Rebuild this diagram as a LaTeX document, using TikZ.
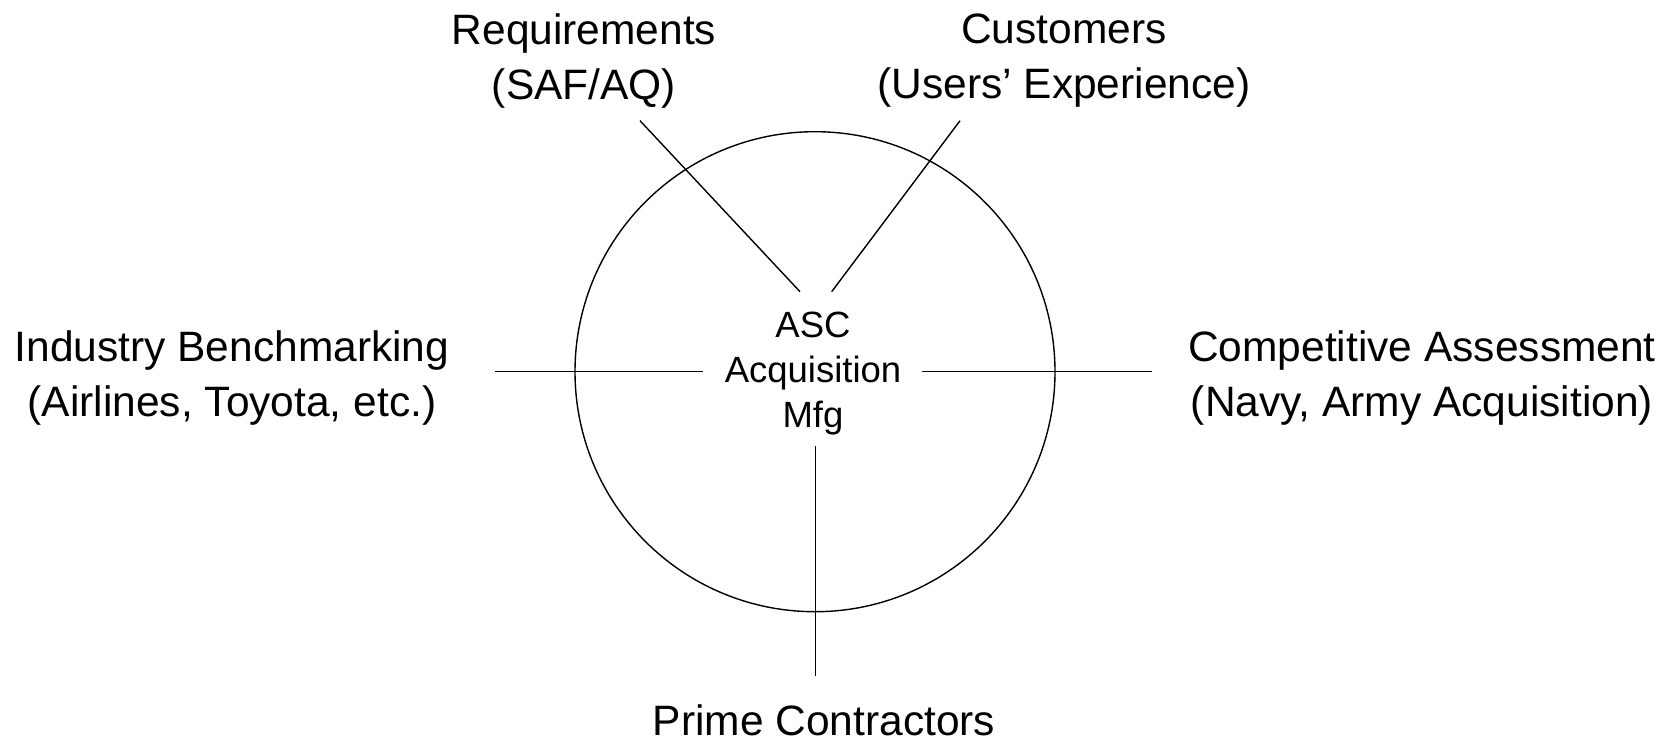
\documentclass[tikz,border=0pt]{standalone}
\usepackage{fontspec}
\setmainfont{Liberation Sans}
\begin{document}
\begin{tikzpicture}[x=1pt,y=-1pt,
  lbl/.style={inner sep=0pt, align=center, font=\fontsize{42.5}{55}\selectfont},
  hublbl/.style={inner sep=0pt, align=center, font=\fontsize{36.5}{45.3}\selectfont},
  conn/.style={line width=1.4pt},
  hubring/.style={draw, circle, line width=1.4pt, minimum size=480pt, inner sep=0pt}]
\useasboundingbox (0,0) rectangle (1673,736);
% hub
\node[hubring] (hub) at (815,371.7) {};
\node[hublbl] (asc) at (813,373.5) {ASC\\Acquisition\\Mfg};
% outer labels
\node[lbl] (req) at (584,61) {Requirements\\(SAF/AQ)};
\node[lbl] (cust) at (1064,61) {Customers\\(Users’ Experience)};
\node[lbl] (ind) at (232,378) {Industry Benchmarking\\(Airlines, Toyota, etc.)};
\node[lbl] (comp) at (1422,378) {Competitive Assessment\\(Navy, Army Acquisition)};
\node[lbl] (prime) at (824,720) {Prime Contractors};
% connector end points
\coordinate (reqA) at (640,120.7);
\coordinate (reqB) at (800,291.7);
\coordinate (custA) at (960,120.7);
\coordinate (custB) at (831.7,291.7);
\coordinate (indA) at (495,371.7);
\coordinate (indB) at (702.7,371.7);
\coordinate (compA) at (1151.7,371.7);
\coordinate (compB) at (921.7,371.7);
\coordinate (primeA) at (815.7,676);
\coordinate (primeB) at (815.7,446);
% connectors
\draw[conn] (reqA) -- (reqB);
\draw[conn] (custA) -- (custB);
\draw[conn] (indA) -- (indB);
\draw[conn] (compA) -- (compB);
\draw[conn] (primeA) -- (primeB);
\end{tikzpicture}
\end{document}
